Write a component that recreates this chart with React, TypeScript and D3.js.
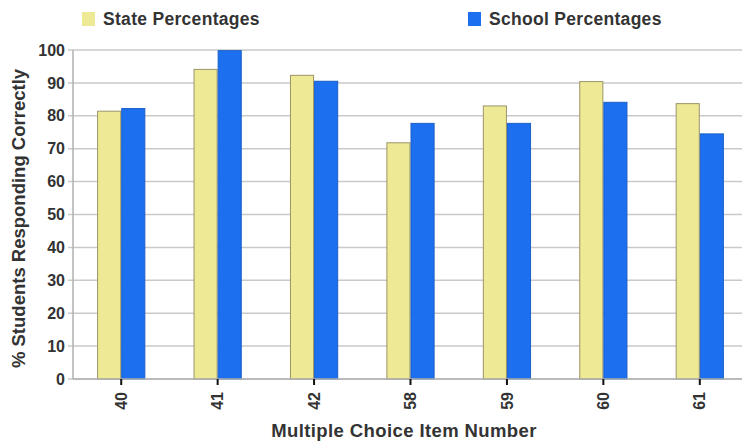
import React from "react";
import * as d3 from "d3";

const categories = ["40", "41", "42", "58", "59", "60", "61"];
const stateValues = [81.4, 94.1, 92.3, 71.8, 83.0, 90.4, 83.7];
const schoolValues = [82.2, 99.8, 90.5, 77.7, 77.7, 84.1, 74.5];
const seriesNames = ["State Percentages", "School Percentages"];
const yTicks = [0, 10, 20, 30, 40, 50, 60, 70, 80, 90, 100];

const W = 742;
const H = 443;
const left = 73;
const right = 748;
const top = 50;
const bottom = 379;
const FONT = "'Liberation Sans', Arial, Helvetica, sans-serif";
const colors = ["#ede995", "#1c6fee"];
const strokes = ["#9c9568", "#1a5fc8"];
const textColor = "#333";

export default function App() {
  const x = d3.scaleBand<string>().domain(categories).range([left, right]).padding(0);
  const xs = d3
    .scaleBand<string>()
    .domain(seriesNames)
    .range([0, x.bandwidth()])
    .paddingInner(0)
    .paddingOuter(1);
  const y = d3.scaleLinear().domain([0, 100]).range([bottom, top]);
  const series = [stateValues, schoolValues];

  return (
    <svg
      width={W}
      height={H}
      style={{ position: "absolute", left: 0, top: 0, background: "#fff" }}
      fontFamily={FONT}
    >
      {/* grid */}
      {yTicks.map((t) => (
        <g key={t}>
          <line x1={left - 5} x2={W} y1={y(t)} y2={y(t)} stroke="#c9c9c9" strokeWidth={1.5} />
          <text
            x={left - 8}
            y={y(t)}
            dy="0.35em"
            textAnchor="end"
            fontSize={16}
            fontWeight="bold"
            fill={textColor}
          >
            {t}
          </text>
        </g>
      ))}
      <line x1={left} x2={left} y1={top} y2={bottom} stroke="#b0b0b0" strokeWidth={1.5} />

      {/* bars */}
      {categories.map((c, i) => (
        <g key={c} transform={`translate(${x(c)},0)`}>
          {seriesNames.map((s, j) => (
            <rect
              key={s}
              x={(xs(s) as number) + 0.5}
              y={y(series[j][i])}
              width={xs.bandwidth() - 1}
              height={bottom - y(series[j][i])}
              fill={colors[j]}
              stroke={strokes[j]}
              strokeWidth={1}
            />
          ))}
        </g>
      ))}
      <line x1={left} x2={W} y1={bottom} y2={bottom} stroke="#b0b0b0" strokeWidth={1.5} />

      {/* x ticks */}
      {categories.map((c) => {
        const cx = (x(c) as number) + x.bandwidth() / 2;
        return (
          <g key={c}>
            <line x1={cx} x2={cx} y1={bottom} y2={bottom + 6} stroke="#111" strokeWidth={2} />
            <text
              transform={`translate(${cx},${bottom + 13}) rotate(-90)`}
              textAnchor="end"
              dy="0.35em"
              fontSize={16}
              fontWeight="bold"
              fill={textColor}
            >
              {c}
            </text>
          </g>
        );
      })}

      {/* axis titles */}
      <text
        transform={`translate(18.5,${(top + bottom) / 2 + 4}) rotate(-90)`}
        textAnchor="middle"
        dy="0.35em"
        fontSize={18.5}
        fontWeight="bold"
        fill={textColor}
      >
        % Students Responding Correctly
      </text>
      <text
        x={404}
        y={430.5}
        textAnchor="middle"
        dy="0.35em"
        fontSize={18.5}
        fontWeight="bold"
        letterSpacing={0.4}
        fill={textColor}
      >
        Multiple Choice Item Number
      </text>

      {/* legend */}
      {seriesNames.map((s, j) => {
        const lx = j === 0 ? 82 : 468;
        return (
          <g key={s}>
            <rect x={lx} y={12} width={13} height={14} fill={colors[j]} />
            <text
              x={lx + 21}
              y={19}
              dy="0.35em"
              fontSize={17.5}
              fontWeight="bold"
              letterSpacing={0.3}
              fill={textColor}
            >
              {s}
            </text>
          </g>
        );
      })}
    </svg>
  );
}
